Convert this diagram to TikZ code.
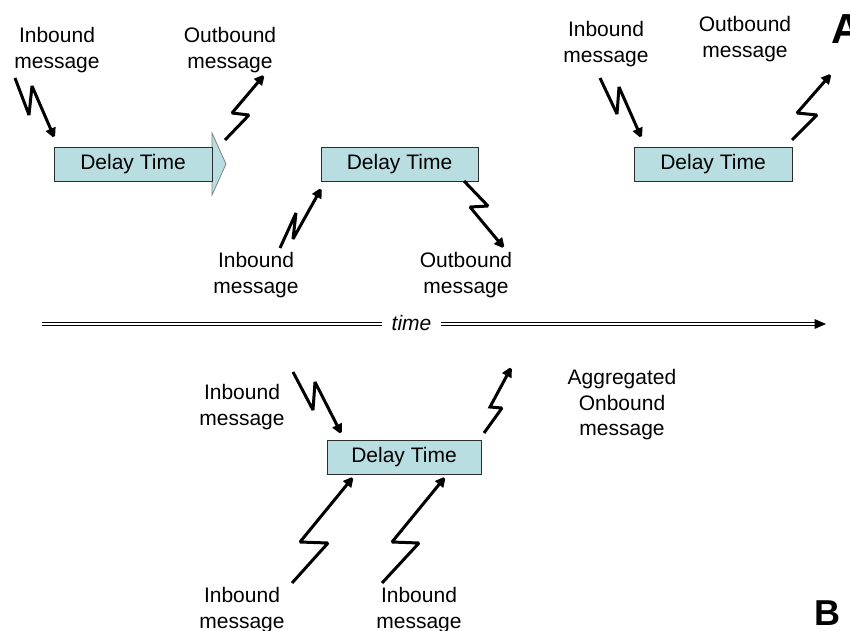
\documentclass[tikz,border=0pt]{standalone}
\usepackage{fontspec}
\setmainfont{Liberation Sans}
\usetikzlibrary{arrows.meta}
\definecolor{boxfill}{RGB}{184,222,225}
\definecolor{boxline}{RGB}{45,45,45}
\definecolor{headline}{RGB}{130,130,130}

\tikzset{
  delaybox/.style={draw=boxline, fill=boxfill, line width=0.9pt,
    minimum height=34pt, inner sep=0pt, font=\fontsize{21}{25}\selectfont},
  msg/.style={align=center, inner sep=0pt, font=\fontsize{21}{25.5}\selectfont},
  bolt/.style={line width=3pt, line join=miter, miter limit=2,
    -{Triangle[length=11pt,width=10pt]}},
  % a rail: thick black stroke with a thin white stroke on top
  rail/.style={draw=black, line width=3.2pt,
    postaction={draw=white, line width=1.2pt}},
  tag/.style={inner sep=0pt, anchor=base west, font=\bfseries\fontsize{42}{42}\selectfont},
}

\begin{document}
\begin{tikzpicture}[x=1pt, y=-1pt]
\useasboundingbox (0,0) rectangle (850,630);

% ---------- part A: one delay per message ----------
% first delay drawn as a block arrow
\fill[boxfill, draw=headline, line width=0.8pt] (212,133) -- (226,164) -- (212,195) -- cycle;
\node[delaybox, minimum width=158pt] (d1) at (133,164) {Delay Time};
\node[delaybox, minimum width=157pt] (d2) at (399.5,164) {Delay Time};
\node[delaybox, minimum width=158pt] (d3) at (713,164) {Delay Time};

\node[msg] (in1)  at (57,50)   {Inbound\\message};
\node[msg] (out1) at (230,50)  {Outbound\\message};
\node[msg] (in2)  at (256,275) {Inbound\\message};
\node[msg] (out2) at (466,275) {Outbound\\message};
\node[msg] (in3)  at (606,44)  {Inbound\\message};
\node[msg] (out3) at (745,39)  {Outbound\\message};

\node[tag] (tagA) at (831,43) {A};

% bolt ends
\coordinate (b1s) at (15,78);   \coordinate (b1e) at (55,139);
\coordinate (b2s) at (225,140); \coordinate (b2e) at (265,74);
\coordinate (b3s) at (280,248); \coordinate (b3e) at (322,187);
\coordinate (b4s) at (464,181); \coordinate (b4e) at (505,249);
\coordinate (b5s) at (600,78);  \coordinate (b5e) at (642,139);
\coordinate (b6s) at (792,140); \coordinate (b6e) at (832,73);

\draw[bolt] (b1s) -- (29,115) -- (32,86) -- (b1e);
\draw[bolt] (b2s) -- (249,115) -- (232,113) -- (b2e);
\draw[bolt] (b3s) -- (296,213) -- (293,239) -- (b3e);
\draw[bolt] (b4s) -- (488,206) -- (470,207) -- (b4e);
\draw[bolt] (b5s) -- (617,114) -- (619,87) -- (b5e);
\draw[bolt] (b6s) -- (817,115) -- (797,113) -- (b6e);

% ---------- time axis ----------
\node[inner sep=0pt, anchor=base, font=\itshape\fontsize{21}{25}\selectfont] (time) at (411.5,330) {time};
\coordinate (t0) at (42,324);
\coordinate (t1) at (815,324);
\draw[rail] (t0) -- ([xshift=-9pt]time.west |- t0);
\draw[rail] ([xshift=9pt]time.east |- t1) -- (t1);
\fill (t1) ++(-0.5,-5) -- ++(11.5,5) -- ++(-11.5,5) -- cycle;

% ---------- part B: aggregated delay ----------
\node[delaybox, minimum width=154pt] (d4) at (404,457) {Delay Time};

\node[msg] (in4) at (242,407) {Inbound\\message};
\node[msg] (agg) at (622,405) {Aggregated\\Onbound\\message};
\node[msg] (in5) at (242,610) {Inbound\\message};
\node[msg] (in6) at (419,610) {Inbound\\message};

\node[tag, font=\bfseries\fontsize{36}{36}\selectfont] (tagB) at (814.5,625) {B};

\coordinate (b7s) at (293,372);  \coordinate (b7e) at (342,435);
\coordinate (b8s) at (484,433);  \coordinate (b8e) at (512,366);
\coordinate (b9s) at (292,583);  \coordinate (b9e) at (354,476);
\coordinate (b10s) at (382,583); \coordinate (b10e) at (446,476);

\draw[bolt] (b7s) -- (313,410) -- (315,382) -- (b7e);
\draw[bolt] (b8s) -- (502,408) -- (490,407) -- (b8e);
\draw[bolt] (b9s) -- (328,543) -- (300,542) -- (b9e);
\draw[bolt] (b10s) -- (419,543) -- (392,542) -- (b10e);
\end{tikzpicture}
\end{document}
